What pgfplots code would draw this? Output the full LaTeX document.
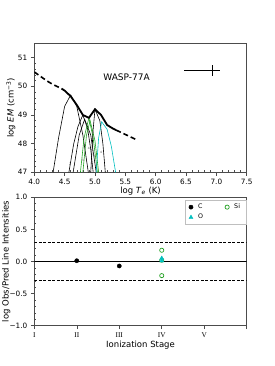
\documentclass[border=0pt]{standalone}
\usepackage{pgfplots}
\pgfplotsset{compat=1.18}
\usepackage{fontspec}
\setmainfont{DejaVu Sans}
\newfontfamily\serif{Liberation Serif}
\definecolor{cy}{RGB}{0,191,191}
\definecolor{gr}{RGB}{34,160,34}
\begin{document}
\begin{tikzpicture}
\useasboundingbox (0pt,0pt) rectangle (274pt,366pt);
\pgfplotsset{
  common/.style={
    scale only axis, width=212.4pt,
    axis line style={black!70, line width=0.6pt},
    tick align=outside,
    xtick pos=bottom, ytick pos=left,
    major tick length=3.5pt, minor tick length=2pt,
    every tick/.style={black!70, line width=0.5pt},
    minor x tick style={yshift=2pt},
    minor y tick style={xshift=2pt},
    tick label style={font=\fontsize{7.3}{8}\selectfont},
    label style={font=\fontsize{8.5}{10}\selectfont},
    /pgf/number format/assume math mode=true,
  }
}
\begin{axis}[common, at={(34.3pt,193.7pt)}, anchor=south west, height=129pt,
  xmin=4, xmax=7.5, ymin=47, ymax=51.5,
  xtick={4,4.5,5,5.5,6,6.5,7,7.5},
  xticklabels={4.0,4.5,5.0,5.5,6.0,6.5,7.0,7.5},
  ytick={47,48,49,50,51},
  minor x tick num=4, minor y tick num=4,
  xlabel={log \textit{T}\textsubscript{\textit{e}} (K)},
  ylabel={log \textit{EM} (cm\textsuperscript{−3})},
  xlabel style={yshift=5pt},
  ylabel style={at={(axis description cs:-0.11,0.5)}, anchor=center},
  clip=true]
% contribution curves
\addplot[black, line width=0.6pt] coordinates {(4.31,47.0) (4.40,48.2) (4.50,49.3) (4.60,49.7) (4.70,49.3) (4.80,48.3) (4.89,47.0)};
\addplot[black, line width=0.6pt] coordinates {(4.57,47.0) (4.65,48.0) (4.72,48.6) (4.80,49.0) (4.88,48.5) (4.93,47.8) (4.97,47.0)};
\addplot[black, line width=0.6pt] coordinates {(4.64,47.0) (4.74,48.3) (4.83,48.85) (4.93,48.3) (5.02,47.0)};
\addplot[gr, line width=0.6pt] coordinates {(4.76,47.0) (4.82,48.2) (4.90,48.9) (4.97,48.2) (5.04,47.0)};
\addplot[gr, line width=0.6pt] coordinates {(4.80,47.0) (4.86,48.3) (4.92,48.8) (5.00,48.1) (5.06,47.0)};
\addplot[black, line width=0.6pt] coordinates {(4.93,47.0) (4.97,48.5) (5.00,49.2) (5.08,48.8) (5.13,48.0) (5.17,47.0)};
\addplot[cy, line width=0.6pt] coordinates {(5.02,47.0) (5.06,48.2) (5.11,48.76) (5.20,48.5) (5.27,47.9) (5.34,47.0)};
% EM distribution
\addplot[black, line width=1.6pt, dash pattern=on 5pt off 3pt] coordinates {(4.0,50.5) (4.1,50.35) (4.2,50.2) (4.3,50.07) (4.45,49.92)};
\addplot[black, line width=1.8pt] coordinates {(4.45,49.92) (4.5,49.85) (4.6,49.65) (4.7,49.35) (4.8,49.0) (4.9,48.9) (5.0,49.2) (5.1,49.0) (5.2,48.65) (5.3,48.52) (5.35,48.47)};
\addplot[black, line width=1.6pt, dash pattern=on 5pt off 3pt] coordinates {(5.35,48.47) (5.4,48.42) (5.5,48.32) (5.6,48.22) (5.7,48.12)};
% error cross
\addplot[black, line width=0.8pt, mark=none, error bars/.cd, x dir=both, x explicit, y dir=both, y explicit, error mark=none, error bar style={line width=0.8pt}]
  coordinates {(6.93,50.55) += (0.13,0.2) -= (0.46,0.2)};
\node[font=\fontsize{9}{10}\selectfont] at (axis cs:5.52,50.3) {WASP-77A};
\node[font=\fontsize{3}{3}\selectfont, black!70] at (axis cs:4.90,47.84) {4};
\node[font=\fontsize{3}{3}\selectfont, black!70] at (axis cs:5.10,47.68) {4};
\node[font=\fontsize{3}{3}\selectfont, black!70] at (axis cs:4.80,47.43) {3};
\node[font=\fontsize{3}{3}\selectfont, black!70] at (axis cs:4.99,47.57) {2};
\node[font=\fontsize{3}{3}\selectfont, black!70] at (axis cs:4.59,47.29) {2};
\end{axis}

\begin{axis}[common, at={(34.3pt,40.3pt)}, anchor=south west, height=128.4pt,
  xmin=1, xmax=6, ymin=-1, ymax=1,
  xtick={1,2,3,4,5,6},
  xticklabels={\serif I,\serif II,\serif III,\serif IV,\serif V,},
  ytick={-1,-0.5,0,0.5,1},
  yticklabels={−1.0,−0.5,0.0,0.5,1.0},
  minor y tick num=4,
  xlabel={Ionization Stage},
  ylabel={log Obs/Pred Line Intensities},
  xlabel style={yshift=3pt},
  ylabel style={at={(axis description cs:-0.132,0.5)}, anchor=center},
  legend columns=2,
  legend cell align=left,
  legend style={at={(1,1)}, anchor=north east, xshift=-0.5pt, yshift=-3pt,
    draw=black!25, font=\fontsize{6.3}{7}\selectfont, inner xsep=4pt, inner ysep=1.5pt,
    /tikz/every odd column/.append style={column sep=3pt},
    /tikz/every even column/.append style={column sep=20pt}},
  ]
\addplot[black, line width=0.7pt, forget plot] coordinates {(1,0) (6,0)};
\addplot[black, line width=0.7pt, dash pattern=on 3pt off 1.5pt, forget plot] coordinates {(1,0.3) (6,0.3)};
\addplot[black, line width=0.7pt, dash pattern=on 3pt off 1.5pt, forget plot] coordinates {(1,-0.3) (6,-0.3)};
\addplot[only marks, mark=*, mark size=2.1pt, black] coordinates {(2,0.012) (3,-0.07)};
\addlegendentry{C}
\addplot[only marks, mark=o, mark size=2.1pt, gr, line width=0.7pt] coordinates {(4,0.175) (4,-0.22) (4,0.02)};
\addlegendentry{Si}
\addplot[only marks, mark=triangle*, mark size=2.3pt, cy] coordinates {(4,0.05) (4,0.01)};
\addlegendentry{O}
\end{axis}
\end{tikzpicture}
\end{document}
